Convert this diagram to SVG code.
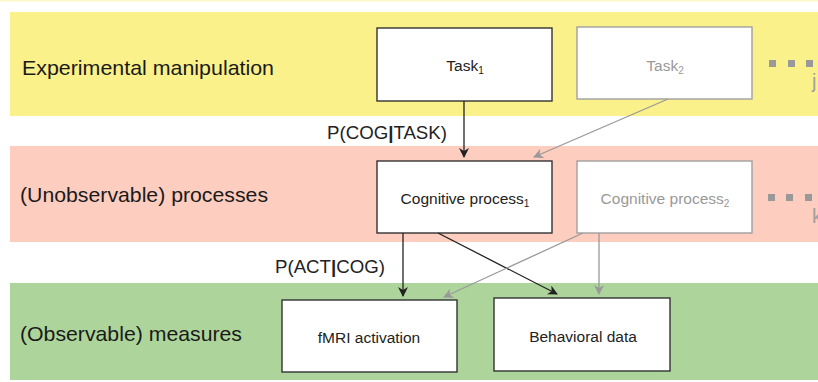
<svg xmlns="http://www.w3.org/2000/svg" width="818" height="382" viewBox="0 0 818 382">
<style>
.band-label{font-family:"Liberation Sans",Arial,sans-serif;font-size:21px;fill:#1a1a1a}
.node-text{font-family:"Liberation Sans",Arial,sans-serif;font-size:15.5px;text-anchor:middle}
.prob{font-family:"Liberation Sans",Arial,sans-serif;font-size:18.5px;fill:#222}
.box1{fill:#fff;stroke:#333;stroke-width:1.4}
.box2{fill:#fff;stroke:#a0a0a0;stroke-width:1.4}
.dark{stroke:#222;stroke-width:1.3;fill:none}
.grey{stroke:#999;stroke-width:1.3;fill:none}
.dot{fill:#999}
.cut{font-family:"Liberation Sans",Arial,sans-serif;font-size:20px;fill:#a0a0a0}
</style>
<defs>
<marker id="ah" viewBox="0 0 10 10" refX="9" refY="5" markerWidth="10" markerHeight="10" markerUnits="userSpaceOnUse" orient="auto">
<path d="M0,0 L10,5 L0,10 L3,5 Z" fill="#222"/>
</marker>
<marker id="ahg" viewBox="0 0 10 10" refX="9" refY="5" markerWidth="10" markerHeight="10" markerUnits="userSpaceOnUse" orient="auto">
<path d="M0,0 L10,5 L0,10 L3,5 Z" fill="#999"/>
</marker>
</defs>
<rect x="0" y="0" width="818" height="382" fill="#fff"/>
<rect x="0" y="0" width="818" height="1.5" fill="#fdf8c4"/>
<g id="band-experimental">
<rect x="10" y="12" width="808" height="104" fill="#fbf18a"/>
<text class="band-label" x="22" y="75" textLength="252" lengthAdjust="spacingAndGlyphs">Experimental manipulation</text>
</g>
<g id="band-unobservable">
<rect x="10" y="146" width="808" height="96" fill="#fdcdbf"/>
<text class="band-label" x="20" y="202" textLength="248" lengthAdjust="spacingAndGlyphs">(Unobservable) processes</text>
</g>
<g id="band-observable">
<rect x="10" y="283" width="808" height="97" fill="#add59b"/>
<text class="band-label" x="20" y="341" textLength="222" lengthAdjust="spacingAndGlyphs">(Observable) measures</text>
</g>
<g id="ellipsis">
<rect class="dot" x="769" y="60" width="7" height="7"/>
<rect class="dot" x="788" y="60" width="7" height="7"/>
<rect class="dot" x="806" y="60" width="7" height="7"/>
<rect class="dot" x="768" y="194" width="7" height="7"/>
<rect class="dot" x="786" y="194" width="7" height="7"/>
<rect class="dot" x="805" y="194" width="7" height="7"/>
<text class="cut" x="812" y="88">j</text>
<text class="cut" x="812" y="223">k</text>
</g>
<g id="task1">
<rect class="box1" x="377" y="28" width="175" height="73"/>
<text class="node-text" x="465" y="71" fill="#222">Task<tspan font-size="10" dy="3">1</tspan></text>
</g>
<g id="task2">
<rect class="box2" x="577" y="27" width="175" height="72"/>
<text class="node-text" x="665" y="71" fill="#999">Task<tspan font-size="10" dy="3">2</tspan></text>
</g>
<g id="cog1">
<rect class="box1" x="377" y="161" width="175" height="72"/>
<text class="node-text" x="465" y="204" fill="#222">Cognitive process<tspan font-size="10" dy="3">1</tspan></text>
</g>
<g id="cog2">
<rect class="box2" x="577" y="161" width="175" height="72"/>
<text class="node-text" x="665" y="204" fill="#999">Cognitive process<tspan font-size="10" dy="3">2</tspan></text>
</g>
<g id="fmri">
<rect class="box1" x="282" y="300" width="175" height="72"/>
<text class="node-text" x="369" y="343" fill="#222">fMRI activation</text>
</g>
<g id="behavioral">
<rect class="box1" x="494" y="298" width="176" height="73"/>
<text class="node-text" x="583" y="342" fill="#222">Behavioral data</text>
</g>
<g id="connectors">
<line class="dark" x1="464" y1="101" x2="464" y2="157" marker-end="url(#ah)"/>
<line class="grey" x1="668" y1="99" x2="534" y2="157" marker-end="url(#ahg)"/>
<line class="dark" x1="403" y1="233" x2="403" y2="296" marker-end="url(#ah)"/>
<line class="dark" x1="438" y1="233" x2="557" y2="294" marker-end="url(#ah)"/>
<line class="grey" x1="583" y1="233" x2="444" y2="297" marker-end="url(#ahg)"/>
<line class="grey" x1="599" y1="233" x2="599" y2="294" marker-end="url(#ahg)"/>
<text class="prob" x="327" y="139" textLength="120" lengthAdjust="spacingAndGlyphs">P(COG<tspan font-weight="bold">|</tspan>TASK)</text>
<text class="prob" x="275" y="273" textLength="110" lengthAdjust="spacingAndGlyphs">P(ACT<tspan font-weight="bold">|</tspan>COG)</text>
</g>
</svg>
